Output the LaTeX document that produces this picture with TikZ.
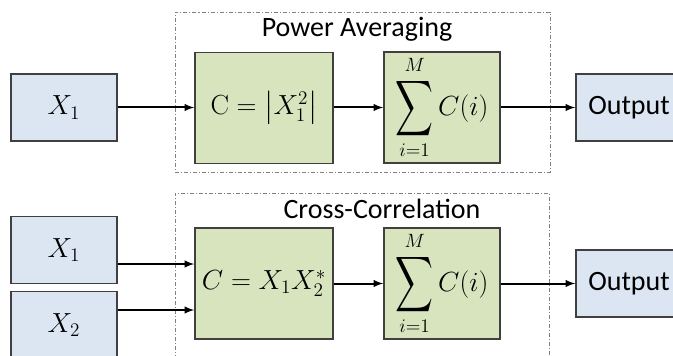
\documentclass[tikz,border=0pt]{standalone}
\usepackage{amsmath,amssymb}
\usepackage{graphicx}
\usepackage[no-math]{fontspec}
\setmainfont{Carlito}
\usepackage{tikz}
\usetikzlibrary{arrows,positioning,calc}
\definecolor{inblue}{HTML}{DCE6F2}
\definecolor{opgreen}{HTML}{D7E4BD}
\definecolor{edgegray}{HTML}{404040}
\newcommand{\bigsum}{\mathop{\vcenter{\hbox{\scalebox{0.95}[1.4]{$\displaystyle\sum$}}}}\limits}

\begin{document}
\begin{tikzpicture}[x=0.75pt, y=-0.75pt,
    sigbox/.style={draw=edgegray, line width=1.1pt, fill=inblue, inner sep=0pt,
        minimum width=79.5pt, minimum height=50pt},
    opbox/.style={draw=edgegray, line width=1.1pt, fill=opgreen, inner sep=0pt,
        minimum width=103.5pt, minimum height=83.5pt},
    sumbox/.style={opbox, minimum width=87pt},
    frame/.style={draw=gray, line width=0.6pt, inner sep=0pt,
        dash pattern=on 3pt off 1.5pt on 0.8pt off 1.5pt},
    flow/.style={-latex, line width=1.5pt, black},
    mathtxt/.style={font=\fontsize{20.74}{24}\selectfont},
    txt/.style={font=\fontsize{21}{24}\selectfont}]
    \useasboundingbox (0,0) rectangle (673,356);
    \clip (0,0) rectangle (673,356);

    % Power averaging
    \node[frame, minimum width=281.25pt, minimum height=120pt] (avgframe) at (362.5,92) {};
    \node[txt] (avgtitle) at (357,29) {Power Averaging};
    \node[sigbox, mathtxt] (inA) at (64,107.5) {$X_1$};
    \node[opbox, mathtxt] (sqr) at (264,108) {$\mathrm{C} = \left|X_1^2\right|$};
    \node[sumbox, mathtxt] (sumA) at (442,107.5) {$\bigsum_{i=1}^{M} C(i)$};
    \node[sigbox, txt] (outA) at (629,107.5) {Output};

    \draw[flow] (inA.east) -- (inA.east -| sqr.west);
    \draw[flow] (sqr.east |- inA.east) -- (inA.east -| sumA.west);
    \draw[flow] (sumA.east |- inA.east) -- (inA.east -| outA.west);

    % Cross-correlation
    \node[frame, minimum width=280.5pt, minimum height=126.75pt] (xcframe) at (362,277.5) {};
    \node[txt] (xctitle) at (382,209) {Cross-Correlation};
    \node[sigbox, mathtxt] (inB1) at (64,250) {$X_1$};
    \node[sigbox, mathtxt] (inB2) at (64,325) {$X_2$};
    \node[opbox, mathtxt] (xc) at (264,283.5) {$C = X_1X_2^{*}$};
    \node[sumbox, mathtxt] (sumB) at (442,283.5) {$\bigsum_{i=1}^{M} C(i)$};
    \node[sigbox, txt] (outB) at (629,283.5) {Output};

    \coordinate (xcin1) at ($(xc.west)+(0,-19.5)$);
    \coordinate (xcin2) at ($(xc.west)+(0,26.5)$);
    \draw[flow] (inB1.east |- xcin1) -- (xcin1);
    \draw[flow] (inB2.east |- xcin2) -- (xcin2);
    \draw[flow] (xc.east) -- (sumB.west);
    \draw[flow] (sumB.east) -- (outB.west);
\end{tikzpicture}
\end{document}
